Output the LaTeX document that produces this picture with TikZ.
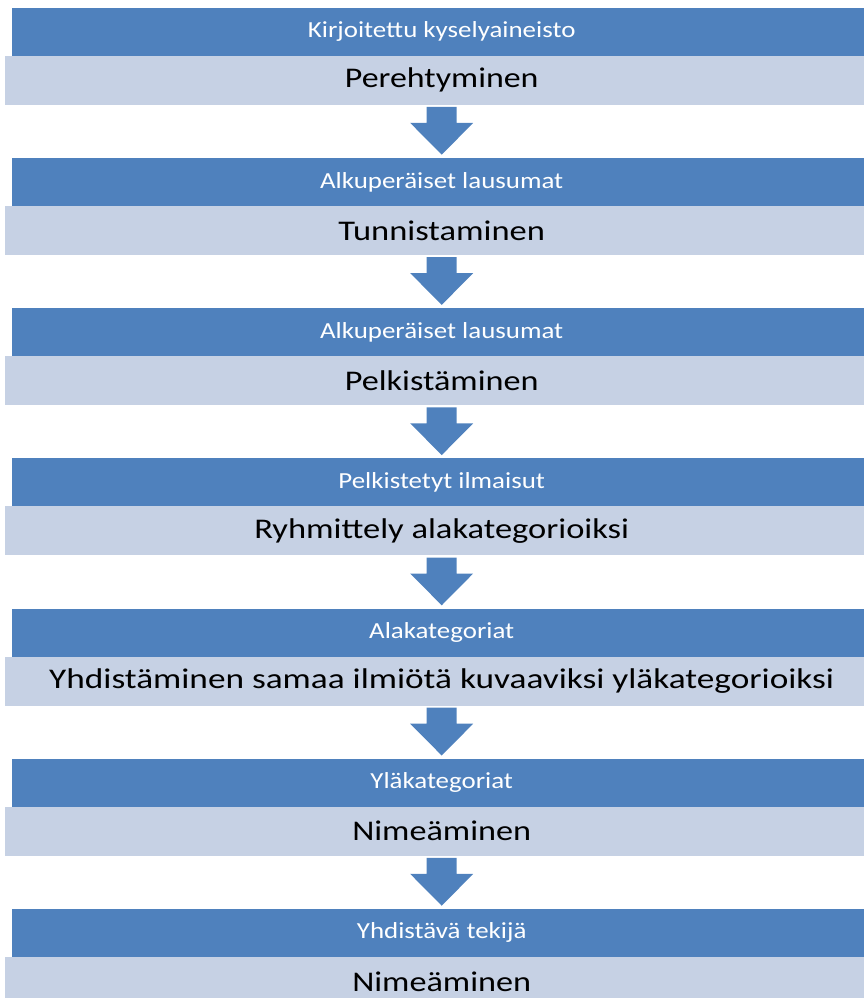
\documentclass[tikz,border=0pt]{standalone}
\usepackage{fontspec}
\setmainfont{Carlito}
\usetikzlibrary{calc}
\definecolor{darkbar}{HTML}{4F81BD}
\definecolor{lightbar}{HTML}{C6D1E4}
\newcommand\stretchtext[2][1.17]{\scalebox{#1}[1]{#2}}
\newcommand\blockarrow[2]{%
  \fill[darkbar] ($(#1.south)+(-15,2)$) -- ($(#1.south)+(15,2)$) -- ($(#1.south)+(15,18)$)
    -- ($(#1.south)+(31.5,18)$) -- ($(#2.north)+(0,-3)$) -- ($(#1.south)+(-31.5,18)$)
    -- ($(#1.south)+(-15,18)$) -- cycle;}
\begin{document}
\begin{tikzpicture}[x=1pt,y=-1pt,
  darkbox/.style={fill=darkbar, minimum width=859pt, minimum height=48pt, inner sep=0pt,
    text=white, font=\fontsize{23}{23}\selectfont, anchor=north west},
  lightbox/.style={fill=lightbar, minimum width=873pt, minimum height=49pt, inner sep=0pt,
    text=black, font=\fontsize{28.5}{28.5}\selectfont, anchor=north west}]
\useasboundingbox (0,0) rectangle (864,998);
\clip (0,0) rectangle (864,998);
\node[darkbox]  (d1) at (12,7.5)    {\stretchtext{Kirjoitettu kyselyaineisto}};
\node[lightbox] (l1) at (5,55.5)    {\stretchtext[1.19]{Perehtyminen}};
\node[darkbox]  (d2) at (12,157.7)  {\stretchtext{Alkuperäiset lausumat}};
\node[lightbox] (l2) at (5,205.7)   {\stretchtext[1.21]{Tunnistaminen}};
\node[darkbox]  (d3) at (12,307.9)  {\stretchtext{Alkuperäiset lausumat}};
\node[lightbox] (l3) at (5,355.9)   {\stretchtext[1.20]{Pelkistäminen}};
\node[darkbox]  (d4) at (12,458.1)  {\stretchtext{Pelkistetyt ilmaisut}};
\node[lightbox] (l4) at (5,506.1)   {\stretchtext[1.21]{Ryhmittely alakategorioiksi}};
\node[darkbox]  (d5) at (12,608.3)  {\stretchtext{Alakategoriat}};
\node[lightbox] (l5) at (5,656.3)   {\stretchtext[1.238]{Yhdistäminen samaa ilmiötä kuvaaviksi yläkategorioiksi}};
\node[darkbox]  (d6) at (12,758.5)  {\stretchtext{Yläkategoriat}};
\node[lightbox] (l6) at (5,806.5)   {\stretchtext[1.20]{Nimeäminen}};
\node[darkbox]  (d7) at (12,908.7)  {\stretchtext{Yhdistävä tekijä}};
\node[lightbox] (l7) at (5,956.7)   {\stretchtext[1.20]{Nimeäminen}};
\blockarrow{l1}{d2}
\blockarrow{l2}{d3}
\blockarrow{l3}{d4}
\blockarrow{l4}{d5}
\blockarrow{l5}{d6}
\blockarrow{l6}{d7}
\end{tikzpicture}
\end{document}
